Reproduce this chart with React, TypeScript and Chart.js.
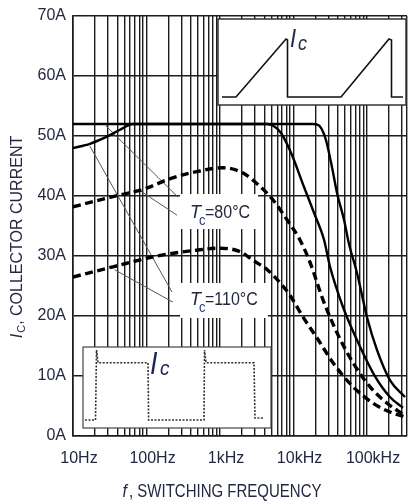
import React, { useEffect, useRef } from 'react';
import { Chart, registerables } from 'chart.js';

Chart.register(...registerables);

const FONT = "'Liberation Sans', Arial, Helvetica, sans-serif";
const TEXT = '#232842';

// Axis definitions
const X_MIN = 10;
const X_MAX = 350000;
const xTickValues = [10, 100, 1000, 10000, 100000];
const xTickLabels = ['10Hz', '100Hz', '1kHz', '10kHz', '100kHz'];
const Y_MIN = 0;
const Y_MAX = 70;
const Y_STEP = 10;

// Tc = 80°C, solid
const solid80Freq = [10, 1000, 18000, 22000, 25000, 27700, 33400, 39100, 48700, 56900, 73000, 100000, 137000, 205000, 329000];
const solid80Amp = [52, 52, 52, 51.8, 50.8, 49.3, 44.8, 40.5, 36, 32, 27.2, 19.8, 14.3, 9.3, 6.5];

// Tc = 110°C, solid
const solid110Freq = [10, 17, 28, 43, 65, 1000, 4300, 5300, 6760, 9250, 13900, 19000, 26000, 31400, 47100, 73000, 125000, 205000, 309000];
const solid110Amp = [48, 48.7, 49.8, 51, 52, 52, 52, 51.7, 50.5, 47.2, 41.5, 37.2, 32.7, 28.2, 21.5, 16, 10.2, 6.5, 4.7];

// Tc = 80°C, dashed
const dash80Freq = [10, 30, 100, 200, 500, 1100, 2000, 3500, 5300, 8200, 12200, 16700, 25200, 39100, 64600, 110000, 186000, 320000];
const dash80Amp = [38.2, 39.7, 41.3, 42.8, 44.1, 44.7, 43.9, 41.6, 39.3, 36, 32.7, 29, 22.7, 17.2, 12.2, 8.2, 5.5, 3.5];

// Tc = 110°C, dashed
const dash110Freq = [10, 35, 140, 500, 1000, 1900, 2800, 4400, 6600, 8900, 13500, 21000, 34500, 64600, 120000, 205000, 330000];
const dash110Amp = [26.5, 28.2, 30, 31, 31.3, 30.7, 29.3, 27.7, 25.5, 23.5, 19.8, 16.3, 12.2, 8.2, 5.5, 4, 3.2];

// Leader lines from labels to curves (frequency, current)
const leader80aFreq = [28, 268];
const leader80aAmp = [51.7, 39.8];
const leader80bFreq = [84, 260];
const leader80bAmp = [40.8, 36.8];
const leader110aFreq = [17, 222];
const leader110aAmp = [48.3, 24];
const leader110bFreq = [37, 229];
const leader110bAmp = [27.7, 22.3];

const labelTexts = ['=80°C', '=110°C'];

function pts(xs: number[], ys: number[]) {
  return xs.map((x, i) => ({ x, y: ys[i] }));
}

function gridValues(): number[] {
  const out: number[] = [];
  for (let d = 10; d <= X_MAX; d *= 10) {
    for (let k = 1; k <= 9; k++) {
      const v = k * d;
      if (v < X_MAX) out.push(v);
    }
  }
  out.push(X_MAX);
  return out;
}

function drawText(ctx: CanvasRenderingContext2D, s: string, x: number, y: number, size: number, italic = false, sy = 1.15) {
  ctx.save();
  ctx.translate(x, y);
  ctx.scale(1, sy);
  ctx.font = `${italic ? 'italic ' : ''}${size}px ${FONT}`;
  ctx.textAlign = 'left';
  ctx.textBaseline = 'alphabetic';
  ctx.fillText(s, 0, 0);
  const w = ctx.measureText(s).width;
  ctx.restore();
  return w;
}

function measure(ctx: CanvasRenderingContext2D, s: string, size: number, italic = false) {
  ctx.save();
  ctx.font = `${italic ? 'italic ' : ''}${size}px ${FONT}`;
  const w = ctx.measureText(s).width;
  ctx.restore();
  return w;
}

const overlayPlugin = {
  id: 'overlay',
  beforeDatasetsDraw(chart: any) {
    const ctx: CanvasRenderingContext2D = chart.ctx;
    const L = chart.chartArea.left;
    const T = chart.chartArea.top;
    ctx.save();
    ctx.fillStyle = '#ffffff';
    // label backgrounds
    ctx.fillRect(L + 107, T + 178, 78, 35);
    ctx.fillRect(L + 107, T + 267, 88, 35);
    ctx.restore();
  },
  afterDatasetsDraw(chart: any) {
    const ctx: CanvasRenderingContext2D = chart.ctx;
    const L = chart.chartArea.left;
    const T = chart.chartArea.top;
    const R = chart.chartArea.right;
    const B = chart.chartArea.bottom;

    // ---- top-right inset (sawtooth) ----
    const ix = L + 145, iy = T + 3, iw = R - 1 - (L + 145), ih = 86;
    ctx.save();
    ctx.fillStyle = '#fff';
    ctx.fillRect(ix, iy, iw, ih);
    ctx.strokeStyle = '#333';
    ctx.lineWidth = 1.5;
    ctx.strokeRect(ix, iy, iw, ih);
    const saw = [[4, 78], [18, 78], [68, 20], [69.5, 21], [69.5, 78], [123, 78], [171, 20], [173.5, 21], [173.5, 78], [185, 78]];
    ctx.beginPath();
    saw.forEach(([px, py], i) => (i ? ctx.lineTo(ix + px, iy + py) : ctx.moveTo(ix + px, iy + py)));
    ctx.strokeStyle = '#111';
    ctx.lineWidth = 1.6;
    ctx.lineJoin = 'miter';
    ctx.stroke();
    ctx.fillStyle = '#1e2750';
    drawText(ctx, 'I', ix + 72, iy + 28, 22, true, 1.15);
    drawText(ctx, 'c', ix + 80, iy + 31, 18, true, 1.1);
    ctx.restore();

    // ---- bottom-left inset (square wave) ----
    const bx = L + 10, by = T + 331, bw = 188, bh = 81;
    ctx.save();
    ctx.fillStyle = '#fff';
    ctx.fillRect(bx, by, bw, bh);
    ctx.strokeStyle = '#444';
    ctx.lineWidth = 1.2;
    ctx.strokeRect(bx, by, bw, bh);
    const sq = [[2, 73], [12.5, 73], [13.5, 3], [15, 15.7], [65, 15.7], [65.6, 73], [121, 73], [121.5, 3], [123, 15.7], [171, 15.7], [172, 71], [180, 71]];
    ctx.beginPath();
    sq.forEach(([px, py], i) => (i ? ctx.lineTo(bx + px, by + py) : ctx.moveTo(bx + px, by + py)));
    ctx.setLineDash([2, 1.5]);
    ctx.strokeStyle = '#333';
    ctx.lineWidth = 1.6;
    ctx.stroke();
    ctx.setLineDash([]);
    ctx.fillStyle = '#1e2750';
    drawText(ctx, 'I', bx + 67, by + 27, 27, true, 1.15);
    drawText(ctx, 'c', bx + 77, by + 28, 19, true, 1.1);
    ctx.restore();

    // ---- curve labels ----
    ctx.save();
    ctx.fillStyle = TEXT;
    drawText(ctx, 'T', L + 117, T + 202, 18, true, 1.05);
    ctx.fillStyle = '#2c3a78';
    drawText(ctx, 'c', L + 126, T + 209, 13, false, 1.1);
    ctx.fillStyle = TEXT;
    drawText(ctx, labelTexts[0], L + 132, T + 202, 16, false, 1.15);

    drawText(ctx, 'T', L + 117, T + 289, 18, true, 1.05);
    ctx.fillStyle = '#2c3a78';
    drawText(ctx, 'c', L + 126, T + 296, 13, false, 1.1);
    ctx.fillStyle = TEXT;
    drawText(ctx, labelTexts[1], L + 132, T + 289, 16, false, 1.15);
    ctx.restore();

    // ---- axis titles ----
    ctx.save();
    ctx.fillStyle = TEXT;
    const s1 = 'f';
    const s2 = ', SWITCHING FREQUENCY';
    const w1 = measure(ctx, s1, 16, true);
    const w2 = measure(ctx, s2, 15);
    const cx = 222;
    const x0 = cx - (w1 + w2 + 2) / 2;
    drawText(ctx, s1, x0, B + 61, 16, true, 1.2);
    drawText(ctx, s2, x0 + w1 + 2, B + 61, 15, false, 1.2);
    ctx.restore();

    ctx.save();
    ctx.fillStyle = TEXT;
    ctx.translate(21.5, 237);
    ctx.rotate(-Math.PI / 2);
    const a = 'I', b = 'C', c = ', COLLECTOR CURRENT';
    const wa = measure(ctx, a, 16, true) + 1;
    const wb = measure(ctx, b, 11);
    const wc = measure(ctx, c, 16);
    const sx = -(wa + wb + wc) / 2;
    drawText(ctx, a, sx, 0, 16, true, 1.05);
    drawText(ctx, b, sx + wa, 3, 11, false, 1.05);
    drawText(ctx, c, sx + wa + wb, 0, 16, false, 1.05);
    ctx.restore();
  },
};

export default function App() {
  const ref = useRef<HTMLCanvasElement | null>(null);

  useEffect(() => {
    if (!ref.current) return;
    const grid = gridValues();
    const curve = (data: any, dashed: boolean) => ({
      data,
      borderColor: '#000',
      borderWidth: dashed ? 3.4 : 2.4,
      borderDash: dashed ? [8, 4.5] : [],
      pointRadius: 0,
      fill: false,
      cubicInterpolationMode: 'monotone' as const,
      order: 0,
    });
    const leader = (data: any) => ({
      data,
      borderColor: '#555',
      borderWidth: 1,
      pointRadius: 0,
      fill: false,
      tension: 0,
      order: 1,
    });

    const chart = new Chart(ref.current, {
      type: 'line',
      data: {
        datasets: [
          curve(pts(solid80Freq, solid80Amp), false),
          curve(pts(solid110Freq, solid110Amp), false),
          curve(pts(dash80Freq, dash80Amp), true),
          curve(pts(dash110Freq, dash110Amp), true),
          leader(pts(leader80aFreq, leader80aAmp)),
          leader(pts(leader80bFreq, leader80bAmp)),
          leader(pts(leader110aFreq, leader110aAmp)),
          leader(pts(leader110bFreq, leader110bAmp)),
        ] as any,
      },
      options: {
        animation: false,
        responsive: false,
        devicePixelRatio: 1,
        events: [],
        layout: { padding: { top: 16, right: 1, left: 0, bottom: 0 } },
        plugins: {
          legend: { display: false },
          tooltip: { enabled: false },
          title: { display: false },
        },
        scales: {
          x: {
            type: 'logarithmic',
            min: X_MIN,
            max: X_MAX,
            afterBuildTicks: (axis: any) => {
              axis.ticks = grid.map((v) => ({ value: v }));
            },
            afterFit: (axis: any) => {
              axis.height = 67;
              axis.paddingLeft = 0;
              axis.paddingRight = 0;
            },
            ticks: {
              autoSkip: false,
              maxRotation: 0,
              minRotation: 0,
              padding: 13,
              labelOffset: 6,
              color: TEXT,
              font: { family: FONT, size: 16 },
              callback: (v: any) => {
                const i = xTickValues.indexOf(Number(v));
                return i >= 0 ? xTickLabels[i] : '';
              },
            },
            grid: { color: '#1c1c1c', lineWidth: 1.4, drawTicks: false },
            border: { color: '#1c1c1c', width: 1.6 },
          },
          y: {
            type: 'linear',
            min: Y_MIN,
            max: Y_MAX,
            afterFit: (axis: any) => {
              axis.width = 73;
              axis.paddingTop = 0;
              axis.paddingBottom = 0;
            },
            ticks: {
              stepSize: Y_STEP,
              padding: 7,
              color: TEXT,
              font: { family: FONT, size: 16 },
              callback: (v: any) => `${v}A`,
            },
            grid: { color: '#1c1c1c', lineWidth: 1.4, drawTicks: false },
            border: { color: '#1c1c1c', width: 1.6 },
          },
        },
      },
      plugins: [overlayPlugin],
    });
    return () => chart.destroy();
  }, []);

  return (
    <div style={{ position: 'fixed', left: 0, top: 0, width: 408, height: 503, background: '#fff' }}>
      <canvas ref={ref} width={408} height={503} style={{ display: 'block', width: 408, height: 503 }} />
    </div>
  );
}
